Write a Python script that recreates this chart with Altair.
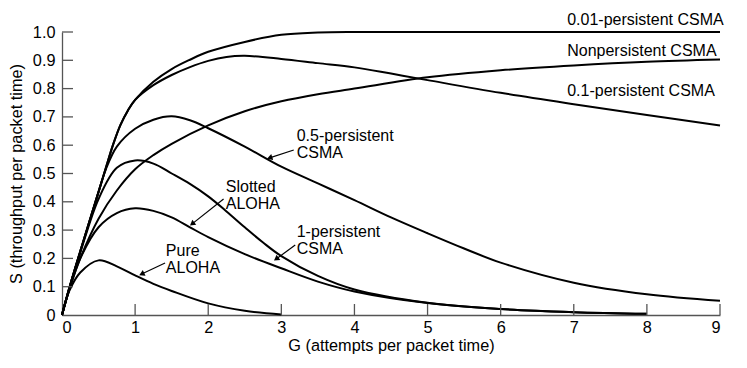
import altair as alt
import pandas as pd

# ---- curve data ----
G_pure = [0, 0.1, 0.25, 0.5, 0.75, 1, 1.25, 1.5, 2, 2.5, 3]
S_pure = [0, 0.085, 0.15, 0.193, 0.172, 0.14, 0.11, 0.085, 0.041, 0.015, 0.002]

G_slot = [0, 0.1, 0.25, 0.5, 0.75, 1, 1.25, 1.5, 1.75, 2, 2.5, 3, 3.5, 4, 5, 6, 7, 8]
S_slot = [0, 0.09, 0.2, 0.31, 0.36, 0.377, 0.368, 0.345, 0.31, 0.275, 0.215, 0.165, 0.118, 0.083, 0.042, 0.021, 0.01, 0.004]

G_p1 = [0, 0.1, 0.25, 0.5, 0.75, 1, 1.25, 1.5, 1.75, 2, 2.25, 2.5, 2.75, 3, 3.5, 4, 5, 6, 7, 8]
S_p1 = [0, 0.095, 0.22, 0.41, 0.52, 0.546, 0.535, 0.5, 0.463, 0.419, 0.366, 0.31, 0.256, 0.208, 0.138, 0.09, 0.043, 0.021, 0.01, 0.004]

G_p05 = [0, 0.1, 0.25, 0.5, 0.6, 0.75, 1, 1.25, 1.5, 1.75, 2, 2.5, 3, 3.5, 4, 4.5, 5, 5.5, 6, 7, 8, 9]
S_p05 = [0, 0.095, 0.225, 0.435, 0.515, 0.595, 0.658, 0.69, 0.702, 0.688, 0.66, 0.595, 0.524, 0.465, 0.406, 0.345, 0.289, 0.235, 0.185, 0.114, 0.073, 0.05]

G_np = [0, 0.1, 0.25, 0.5, 0.75, 1, 1.25, 1.5, 2, 2.5, 3, 3.5, 4, 5, 6, 7, 8, 9]
S_np = [0, 0.09, 0.2, 0.34, 0.44, 0.515, 0.565, 0.605, 0.67, 0.72, 0.755, 0.78, 0.8, 0.84, 0.865, 0.882, 0.895, 0.903]

G_p01 = [0, 0.1, 0.25, 0.5, 0.6, 0.7, 0.8, 0.9, 1, 1.25, 1.5, 1.75, 2, 2.25, 2.5, 3, 3.5, 4, 4.5, 5, 6, 7, 8, 9]
S_p01 = [0, 0.095, 0.225, 0.435, 0.52, 0.603, 0.672, 0.722, 0.76, 0.812, 0.848, 0.876, 0.898, 0.912, 0.916, 0.905, 0.89, 0.875, 0.853, 0.83, 0.785, 0.745, 0.707, 0.67]

G_p001 = [0, 0.1, 0.25, 0.5, 0.6, 0.7, 0.8, 0.9, 1, 1.25, 1.5, 1.75, 2, 2.5, 3, 3.5, 4, 5, 6, 7, 8, 9]
S_p001 = [0, 0.095, 0.225, 0.435, 0.52, 0.603, 0.672, 0.722, 0.76, 0.824, 0.869, 0.902, 0.93, 0.965, 0.99, 0.998, 1.0, 1.0, 1.0, 1.0, 1.0, 1.0]

series = [
    ("Pure ALOHA", G_pure, S_pure),
    ("Slotted ALOHA", G_slot, S_slot),
    ("1-persistent CSMA", G_p1, S_p1),
    ("0.5-persistent CSMA", G_p05, S_p05),
    ("Nonpersistent CSMA", G_np, S_np),
    ("0.1-persistent CSMA", G_p01, S_p01),
    ("0.01-persistent CSMA", G_p001, S_p001),
]

# ---- annotations ----
label_text = ["0.01-persistent CSMA", "Nonpersistent CSMA", "0.1-persistent CSMA",
              "0.5-persistent\nCSMA", "Slotted\nALOHA", "1-persistent\nCSMA", "Pure\nALOHA"]
label_G = [6.91, 6.91, 6.91, 3.21, 2.24, 3.21, 1.42]
label_S = [1.042, 0.933, 0.792, 0.631, 0.454, 0.292, 0.225]

arrow_G0 = [3.17, 2.21, 3.19, 1.41]
arrow_S0 = [0.583, 0.41, 0.247, 0.184]
arrow_G1 = [2.84, 1.78, 2.93, 1.09]
arrow_S1 = [0.555, 0.322, 0.198, 0.145]
arrow_angle = [251.6, 232.0, 233.6, 244.4]

x_ticks = [0, 1, 2, 3, 4, 5, 6, 7, 8, 9]
y_ticks = [0, 0.1, 0.2, 0.3, 0.4, 0.5, 0.6, 0.7, 0.8, 0.9, 1.0]

FONT = "Liberation Sans"
FS = 16.3
AX = "#555555"

rows = []
for name, gs, ss in series:
    for i, (g, s) in enumerate(zip(gs, ss)):
        rows.append({"series": name, "G": g, "S": s, "i": i})
df = pd.DataFrame(rows)

xscale = alt.Scale(domain=[0, 9], nice=False, zero=True)
yscale = alt.Scale(domain=[0, 1], nice=False)
xaxis = alt.Axis(title="G (attempts per packet time)", values=x_ticks, format="d",
                 ticks=False, labelPadding=4, titlePadding=2, domainColor=AX,
                 domainWidth=1.3, grid=False, labelOverlap=False)
yaxis = alt.Axis(title="S (throughput per packet time)", values=y_ticks,
                 labelExpr="datum.value == 0 ? '0' : format(datum.value, '.1f')",
                 ticks=False, labelPadding=7, titlePadding=8, domainColor=AX,
                 domainWidth=1.3, grid=False, labelOverlap=False)


def X(f):
    return alt.X(f, scale=xscale, axis=xaxis)


def Y(f):
    return alt.Y(f, scale=yscale, axis=yaxis)


lines = alt.Chart(df).mark_line(color="black", strokeWidth=2, interpolate="catmull-rom").encode(
    x=X("G:Q"), y=Y("S:Q"), detail="series:N", order="i:Q")

xt = pd.DataFrame({"G": x_ticks[1:]})
xtick_layer = alt.Chart(xt).mark_rule(color=AX, strokeWidth=1.3).encode(
    x=X("G:Q"), y=alt.value(283), y2=alt.value(272))

yt = pd.DataFrame({"S": y_ticks[1:]})
ytick_layer = alt.Chart(yt).mark_rule(color=AX, strokeWidth=1.3).encode(
    y=Y("S:Q"), x=alt.value(0), x2=alt.value(11))

lab = pd.DataFrame({"t": label_text, "G": label_G, "S": label_S})
labels = alt.Chart(lab).mark_text(align="left", baseline="middle", font=FONT,
                                  fontSize=16, color="black", lineBreak="\n",
                                  lineHeight=17).encode(
    x=X("G:Q"), y=Y("S:Q"), text="t:N")

arr = pd.DataFrame({"G": arrow_G1, "S": arrow_S1, "G0": arrow_G0, "S0": arrow_S0,
                    "ang": arrow_angle})
arrow_lines = alt.Chart(arr).mark_rule(color="black", strokeWidth=1.2).encode(
    x=X("G:Q"), y=Y("S:Q"), x2="G0:Q", y2="S0:Q")
arrow_heads = alt.Chart(arr).mark_point(shape="triangle-up", filled=True, size=40,
                                        color="black", opacity=1).encode(
    x=X("G:Q"), y=Y("S:Q"), angle=alt.Angle("ang:Q", scale=None))

chart = alt.layer(lines, xtick_layer, ytick_layer, arrow_lines, arrow_heads, labels).properties(
    width=658, height=283,
    autosize=alt.AutoSizeParams(type="none"),
    padding={"left": 54, "top": 24, "right": 19, "bottom": 45},
).configure_view(stroke=None).configure_axis(
    labelFont=FONT, titleFont=FONT, labelFontSize=FS, titleFontSize=FS,
    labelColor="black", titleColor="black", titleFontWeight="normal",
)

chart.save("out.html", embed_options={"renderer": "svg", "actions": False})
